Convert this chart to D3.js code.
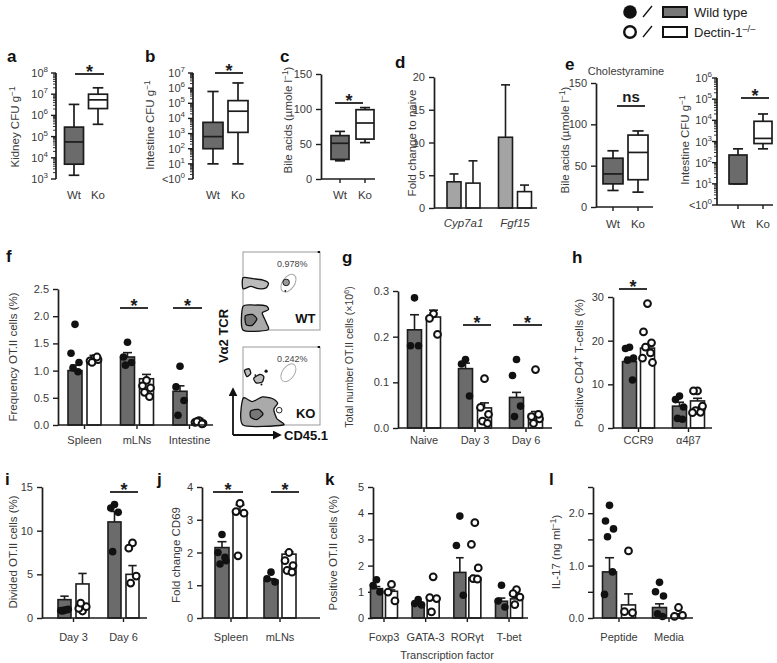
<!DOCTYPE html>
<html><head><meta charset="utf-8">
<script src="https://cdn.jsdelivr.net/npm/d3@7"></script>
<style>body{margin:0;background:#fff}svg{font-family:"Liberation Sans",Arial,sans-serif}</style>
</head><body>
<svg id="c" width="777" height="663"></svg>
<script>
// ================= DATA =================
const groups = ["Wt", "Ko"];
// box plots: [min, q1, median, q3, max]
const aWt = [1500, 5000, 56000, 280000, 3300000];
const aKo = [380000, 2100000, 5400000, 10000000, 20000000];
const bWt = [10, 100, 630, 5500, 600000];
const bKo = [10, 1200, 30000, 150000, 2200000];
const cWt = [26, 28, 51, 62, 68];
const cKo = [52, 57, 80, 99, 102];
const eBileWt = [20, 28, 40, 59, 68];
const eBileKo = [18, 33, 66, 87, 92];
const eCfuWt = [10, 10, 10, 230, 450];
const eCfuKo = [450, 800, 1400, 9000, 20000];
// d: fold change
const dGenes = ["Cyp7a1", "Fgf15"];
const dWtMean = [4.0, 10.8], dWtTop = [5.2, 18.8];
const dKoMean = [3.8, 2.5], dKoTop = [7.2, 3.5];
// f
const fCats = ["Spleen", "mLNs", "Intestine"];
const fWtMean = [1.0, 1.25, 0.62], fWtTop = [1.1, 1.33, 0.72];
const fKoMean = [1.19, 0.85, 0.06], fKoTop = [1.28, 0.93, 0.12];
const fWtPts = [[1.85, 1.32, 1.15, 1.05, 0.98], [1.52, 1.25, 1.15, 1.1], [1.08, 0.7, 0.45, 0.18]];
const fKoPts = [[1.22, 1.18, 1.2, 1.15, 1.25], [0.82, 0.72, 0.68, 0.6, 0.52], [0.08, 0.05, 0.03, 0.06, 0.02]];
// g
const gCats = ["Naive", "Day 3", "Day 6"];
const gWtMean = [0.215, 0.13, 0.067], gWtTop = [0.248, 0.142, 0.078];
const gKoMean = [0.243, 0.044, 0.03], gKoTop = [0.258, 0.055, 0.036];
const gWtPts = [[0.285, 0.18, 0.18], [0.15, 0.14, 0.07], [0.15, 0.115, 0.048, 0.025]];
const gKoPts = [[0.25, 0.24, 0.205], [0.108, 0.045, 0.03, 0.015, 0.01], [0.128, 0.025, 0.02, 0.01, 0.03]];
// h
const hCats = ["CCR9", "α4β7"];
const hWtMean = [15.2, 5.0], hWtTop = [16.2, 5.9];
const hKoMean = [18.3, 6.2], hKoTop = [18.9, 6.8];
const hWtPts = [[18.5, 18.2, 16.0, 15.5, 11.0], [7.3, 6.5, 4.8, 2.2, 2.0]];
const hKoPts = [[28.5, 22.0, 19.5, 18.5, 17.2, 16.0, 15.0], [8.5, 8.5, 4.5, 4.0, 3.6, 3.5, 5.0]];
// i
const iCats = ["Day 3", "Day 6"];
const iWtMean = [2.1, 11.0], iWtTop = [2.5, 12.2];
const iKoMean = [3.9, 5.0], iKoTop = [5.1, 6.0];
const iWtPts = [[0.9, 0.85, 1.0, 0.8, 0.95], [13.0, 12.6, 12.1, 7.6]];
const iKoPts = [[0.8, 1.1, 1.3, 1.7], [8.6, 8.0, 4.8, 4.0]];
// j
const jCats = ["Spleen", "mLNs"];
const jWtMean = [2.15, 1.15], jWtTop = [2.33, 1.2];
const jKoMean = [3.2, 1.95], jKoTop = [3.45, 2.02];
const jWtPts = [[2.55, 2.0, 1.75, 1.65, 1.85], [1.4, 1.2, 1.1]];
const jKoPts = [[3.5, 3.25, 3.2, 1.9], [2.0, 1.75, 1.6, 1.45, 1.4]];
// k
const kCats = ["Foxp3", "GATA-3", "RORγt", "T-bet"];
const kWtMean = [1.12, 0.55, 1.74, 0.64], kWtTop = [1.2, 0.6, 2.3, 0.76];
const kKoMean = [1.02, 0.74, 1.54, 0.73], kKoTop = [1.07, 0.8, 1.62, 0.78];
const kWtPts = [[1.46, 1.24, 0.99], [0.7, 0.55, 0.5], [3.89, 2.77, 0.87], [1.25, 0.65, 0.42]];
const kKoPts = [[1.28, 0.99, 0.65], [1.57, 0.78, 0.74, 0.23], [3.64, 2.81, 1.91, 1.5, 1.48], [1.08, 0.93, 0.8, 0.51]];
// l
const lCats = ["Peptide", "Media"];
const lWtMean = [0.88, 0.2], lWtTop = [1.15, 0.27];
const lKoMean = [0.25, 0.05], lKoTop = [0.46, 0.08];
const lWtPts = [[2.15, 1.85, 1.7, 1.55, 0.88, 0.45], [0.68, 0.5, 0.42, 0.08, 0.03]];
const lKoPts = [[1.28, 0.12, 0.1], [0.2, 0.03, 0.05]];
// flow gate percentages
const flowPct = ["0.978%", "0.242%"];

// ================= DRAWING =================
const svg = d3.select("#c");
const DARK = "#6b6b6b", LIGHT = "#a4a4a4", INK = "#1c1c1c", TXT = "#3a3a3a";

function letter(t, x, y) {
  svg.append("text").attr("x", x).attr("y", y).attr("font-size", 17).attr("font-weight", "bold").attr("fill", "#111").text(t);
}
function addParts(t, parts, fs) {
  let raised = false;
  parts.forEach(p => {
    if (typeof p === "string") {
      const s = t.append("tspan").text(p);
      if (raised) { s.attr("dy", fs * 0.38); raised = false; }
    } else {
      t.append("tspan").attr("dy", -fs * 0.38).attr("font-size", fs * 0.72).text(p.sup);
      raised = true;
    }
  });
}
function yTitle(parts, x, yc, fs = 11.5) {
  const t = svg.append("text").attr("transform", `translate(${x},${yc}) rotate(-90)`)
    .attr("text-anchor", "middle").attr("font-size", fs).attr("fill", TXT);
  addParts(t, parts, fs);
}
function styleAxis(g) {
  g.attr("font-family", null).attr("font-size", 11);
  g.select(".domain").attr("stroke", INK).attr("stroke-width", 1.7);
  g.selectAll(".tick line").attr("stroke", INK).attr("stroke-width", 1.4);
  g.selectAll(".tick text").attr("fill", TXT);
}
function linY(p) {
  const y = d3.scaleLinear().domain(p.dom).range([p.yBot, p.yTop]);
  const ax = d3.axisLeft(y).tickValues(p.ticks).tickSize(5).tickSizeOuter(0).tickPadding(4)
    .tickFormat(p.fmt || (d => d));
  svg.append("g").attr("transform", `translate(${p.x0},0)`).call(ax).call(styleAxis);
  return y;
}
function logY(p) {
  const y = d3.scaleLog().domain(p.dom).range([p.yBot, p.yTop]);
  const g = svg.append("g");
  g.append("line").attr("x1", p.x0).attr("x2", p.x0).attr("y1", p.yBot).attr("y2", p.yTop)
    .attr("stroke", INK).attr("stroke-width", 1.7);
  const lo = Math.round(Math.log10(p.dom[0])), hi = Math.round(Math.log10(p.dom[1]));
  const gap = p.gap || 8;
  for (let e = lo; e <= hi; e++) {
    const v = Math.pow(10, e);
    g.append("line").attr("x1", p.x0 - 5).attr("x2", p.x0).attr("y1", y(v)).attr("y2", y(v))
      .attr("stroke", INK).attr("stroke-width", 1.4);
    if (e < hi) for (let m = 2; m <= 9; m++) {
      g.append("line").attr("x1", p.x0 - 3).attr("x2", p.x0).attr("y1", y(m * v)).attr("y2", y(m * v))
        .attr("stroke", INK).attr("stroke-width", 0.9);
    }
    const t = g.append("text").attr("x", p.x0 - gap).attr("y", y(v) + 4).attr("text-anchor", "end")
      .attr("font-size", 11).attr("fill", TXT);
    const pre = (p.lt && e === lo) ? "<10" : "10";
    t.append("tspan").text(pre);
    t.append("tspan").attr("dy", -5).attr("font-size", 8).text(e);
  }
  return y;
}
function xLine(p, y) {
  svg.append("line").attr("x1", p.x0).attr("x2", p.x1).attr("y1", y(p.base)).attr("y2", y(p.base))
    .attr("stroke", INK).attr("stroke-width", 1.7);
}
function xLabels(cats, x, lb, ticks, y0, fs = 11.5, style) {
  cats.forEach(c => {
    const t = svg.append("text").attr("x", x(c)).attr("y", lb).attr("text-anchor", "middle")
      .attr("font-size", fs).attr("fill", TXT).text(c);
    if (style) t.attr("font-style", style);
    if (ticks) svg.append("line").attr("x1", x(c)).attr("x2", x(c)).attr("y1", y0).attr("y2", y0 + 4)
      .attr("stroke", INK).attr("stroke-width", 1.4);
  });
}
function sig(x1, x2, yb, txt = "*") {
  svg.append("line").attr("x1", x1).attr("x2", x2).attr("y1", yb).attr("y2", yb)
    .attr("stroke", INK).attr("stroke-width", 1.8);
  if (txt === "*")
    svg.append("text").attr("x", (x1 + x2) / 2).attr("y", yb + 4).attr("text-anchor", "middle")
      .attr("font-size", 18).attr("font-weight", "bold").attr("fill", INK).text("*");
  else
    svg.append("text").attr("x", (x1 + x2) / 2).attr("y", yb - 4).attr("text-anchor", "middle")
      .attr("font-size", 15).attr("font-weight", "bold").attr("fill", INK).text(txt);
}
function boxes(y, x, data, w) {
  data.forEach((d, i) => {
    const cx = x(groups[i]), fill = i === 0 ? DARK : "#fff";
    const g = svg.append("g").attr("stroke", INK).attr("stroke-width", 1.7);
    g.append("line").attr("x1", cx).attr("x2", cx).attr("y1", y(d[0])).attr("y2", y(d[1]));
    g.append("line").attr("x1", cx).attr("x2", cx).attr("y1", y(d[3])).attr("y2", y(d[4]));
    g.append("line").attr("x1", cx - w * 0.28).attr("x2", cx + w * 0.28).attr("y1", y(d[0])).attr("y2", y(d[0]));
    g.append("line").attr("x1", cx - w * 0.28).attr("x2", cx + w * 0.28).attr("y1", y(d[4])).attr("y2", y(d[4]));
    g.append("rect").attr("x", cx - w / 2).attr("width", w).attr("y", y(d[3]))
      .attr("height", Math.max(0.5, y(d[1]) - y(d[3]))).attr("fill", fill);
    g.append("line").attr("x1", cx - w / 2).attr("x2", cx + w / 2).attr("y1", y(d[2])).attr("y2", y(d[2]));
  });
}
const jit = [0, -4, 4, -2, 3, -5, 5, 1];
function bars(y, x, cats, w, off, sets, dots = true) {
  sets.forEach((s, gi) => {
    const sgn = gi === 0 ? -1 : 1;
    cats.forEach((c, ci) => {
      const cx = x(c) + sgn * off;
      svg.append("rect").attr("x", cx - w / 2).attr("width", w).attr("y", y(s.mean[ci]))
        .attr("height", y(0) - y(s.mean[ci])).attr("fill", s.fill).attr("stroke", INK).attr("stroke-width", 1.6);
      svg.append("line").attr("x1", cx).attr("x2", cx).attr("y1", y(s.mean[ci])).attr("y2", y(s.top[ci]))
        .attr("stroke", INK).attr("stroke-width", 1.6);
      svg.append("line").attr("x1", cx - w * 0.32).attr("x2", cx + w * 0.32).attr("y1", y(s.top[ci])).attr("y2", y(s.top[ci]))
        .attr("stroke", INK).attr("stroke-width", 1.6);
    });
  });
  if (!dots) return;
  sets.forEach((s, gi) => {
    const sgn = gi === 0 ? -1 : 1;
    cats.forEach((c, ci) => {
      const cx = x(c) + sgn * off;
      s.pts[ci].forEach((v, k) => {
        svg.append("circle").attr("cx", cx + jit[k % jit.length] * w / 14).attr("cy", y(v))
          .attr("r", gi === 0 ? 3.8 : 3.4)
          .attr("fill", gi === 0 ? "#111" : "#fff").attr("stroke", gi === 0 ? "none" : "#111")
          .attr("stroke-width", 2);
      });
    });
  });
}

// ---------- Legend ----------
(function () {
  const rows = [{ y: 12, filled: true, txt: ["Wild type"] }, { y: 32, filled: false, txt: ["Dectin-1", { sup: "–/–" }] }];
  rows.forEach(r => {
    svg.append("circle").attr("cx", 630).attr("cy", r.y).attr("r", r.filled ? 6.8 : 5.8)
      .attr("fill", r.filled ? "#111" : "#fff").attr("stroke", "#111").attr("stroke-width", r.filled ? 0 : 2.4);
    svg.append("line").attr("x1", 643).attr("x2", 652).attr("y1", r.y + 5).attr("y2", r.y - 6)
      .attr("stroke", "#111").attr("stroke-width", 1.3);
    svg.append("rect").attr("x", 663).attr("y", r.y - 5).attr("width", 24).attr("height", 10)
      .attr("fill", r.filled ? "#777" : "#fff").attr("stroke", "#111").attr("stroke-width", 2);
    const t = svg.append("text").attr("x", 694).attr("y", r.y + 5).attr("font-size", 13).attr("fill", "#222");
    addParts(t, r.txt, 13);
  });
})();

// ---------- a ----------
letter("a", 7, 62);
{
  const p = { x0: 56, yTop: 73, yBot: 179, dom: [1e3, 1e8] };
  const y = logY(p);
  const x = d3.scalePoint().domain(groups).range([74, 98]);
  boxes(y, x, [aWt, aKo], 19);
  xLabels(groups, x, 199, false);
  yTitle(["Kidney CFU g", { sup: "−1" }], 19, 127);
  sig(75, 104, 74);
}
// ---------- b ----------
letter("b", 145, 62);
{
  const p = { x0: 193, yTop: 73, yBot: 179, dom: [1, 1e7], lt: true };
  const y = logY(p);
  const x = d3.scalePoint().domain(groups).range([213, 238]);
  boxes(y, x, [bWt, bKo], 20);
  xLabels(groups, x, 199, false);
  yTitle(["Intestine CFU g", { sup: "−1" }], 154, 125);
  sig(215, 243, 73);
}
// ---------- c ----------
letter("c", 280, 62);
{
  const p = { x0: 321, x1: 375, yTop: 74, yBot: 179, dom: [0, 150], ticks: [0, 50, 100, 150], base: 0 };
  const y = linY(p);
  const x = d3.scalePoint().domain(groups).range([340, 365]);
  boxes(y, x, [cWt, cKo], 18);
  xLine(p, y);
  xLabels(groups, x, 199, true, y(0));
  yTitle(["Bile acids (µmole l", { sup: "−1" }, ")"], 292, 120);
  sig(335, 363, 103);
}
// ---------- d ----------
letter("d", 395, 68);
{
  const p = { x0: 434, x1: 537, yTop: 77, yBot: 208, dom: [0, 20], ticks: [0, 5, 10, 15, 20], base: 0 };
  const y = linY(p);
  const x = d3.scalePoint().domain(dGenes).range([463.5, 515]);
  bars(y, x, dGenes, 14, 9.5, [{ mean: dWtMean, top: dWtTop, fill: LIGHT }, { mean: dKoMean, top: dKoTop, fill: "#fff" }], false);
  xLine(p, y);
  xLabels(dGenes, x, 227, false, 0, 11.5, "italic");
  yTitle(["Fold change to naive"], 416, 143);
}
// ---------- e ----------
letter("e", 565, 70);
svg.append("text").attr("x", 626).attr("y", 75).attr("text-anchor", "middle").attr("font-size", 11).attr("fill", TXT).text("Cholestyramine");
{
  const p = { x0: 596, x1: 653, yTop: 83, yBot: 207, dom: [0, 150], ticks: [0, 50, 100, 150], base: 0 };
  const y = linY(p);
  const x = d3.scalePoint().domain(groups).range([613, 638]);
  boxes(y, x, [eBileWt, eBileKo], 20);
  xLine(p, y);
  xLabels(groups, x, 228, true, y(0));
  yTitle(["Bile acids (µmole l", { sup: "−1" }, ")"], 569, 140);
  sig(617, 645, 106, "ns");
}
{
  const p = { x0: 717, x1: 773, yTop: 78, yBot: 205, dom: [1, 1e6], lt: true, base: 1, gap: 5 };
  const y = logY(p);
  const x = d3.scalePoint().domain(groups).range([738, 763]);
  boxes(y, x, [eCfuWt, eCfuKo], 18);
  xLine(p, y);
  xLabels(groups, x, 228, true, y(1));
  yTitle(["Intestine CFU g", { sup: "−1" }], 689, 140);
  sig(741, 769, 98);
}

// ---------- f ----------
letter("f", 6, 262);
{
  const p = { x0: 58, x1: 213, yTop: 289, yBot: 425, dom: [0, 2.5], ticks: [0, 0.5, 1, 1.5, 2, 2.5], fmt: d3.format(".1f"), base: 0 };
  const y = linY(p);
  const x = d3.scalePoint().domain(fCats).range([84.5, 189.5]);
  bars(y, x, fCats, 14, 9.5, [{ mean: fWtMean, top: fWtTop, pts: fWtPts, fill: DARK }, { mean: fKoMean, top: fKoTop, pts: fKoPts, fill: "#fff" }]);
  xLine(p, y);
  xLabels(fCats, x, 444, true, y(0), 11);
  yTitle(["Frequency OT.II cells (%)"], 17, 357);
  sig(120, 148, 308); sig(173, 202, 308);
}
// ---------- flow plots ----------
{
  const boxesF = [{ y0: 252, pct: flowPct[0], lab: "WT" }, { y0: 347, pct: flowPct[1], lab: "KO" }];
  const wtBlobs = [
    { pts: [[0, 0.33], [0.12, 0.34], [0.26, 0.36], [0.33, 0.4], [0.3, 0.46], [0.2, 0.47], [0.1, 0.44], [0, 0.47]], fill: "#bbb" },
    { pts: [[0, 0.7], [0.15, 0.68], [0.3, 0.69], [0.33, 0.74], [0.25, 0.78], [0.3, 0.9], [0.32, 1], [0, 1]], fill: "#aaa" },
    { pts: [[0.03, 0.82], [0.12, 0.8], [0.18, 0.86], [0.12, 0.94], [0.04, 0.93]], fill: "#777" }
  ];
  const koBlobs = [
    { pts: [[0.02, 0.3], [0.08, 0.28], [0.1, 0.34], [0.05, 0.38]], fill: "#bbb" },
    { pts: [[0.14, 0.4], [0.22, 0.35], [0.27, 0.38], [0.25, 0.45], [0.17, 0.46]], fill: "#bbb" },
    { pts: [[0, 0.66], [0.12, 0.7], [0.25, 0.64], [0.38, 0.66], [0.45, 0.72], [0.4, 0.8], [0.44, 0.92], [0.52, 1], [0, 1]], fill: "#aaa" },
    { pts: [[0.1, 0.82], [0.2, 0.8], [0.26, 0.86], [0.18, 0.93], [0.1, 0.9]], fill: "#777" }
  ];
  boxesF.forEach((b, bi) => {
    const u = d3.scaleLinear().domain([0, 1]).range([243, 320]);
    const v = d3.scaleLinear().domain([0, 1]).range([b.y0, b.y0 + 78]);
    svg.append("rect").attr("x", u(0)).attr("y", v(0)).attr("width", u(1) - u(0)).attr("height", v(1) - v(0))
      .attr("fill", "#fff").attr("stroke", "#999").attr("stroke-width", 1);
    svg.append("line").attr("x1", u(0.97)).attr("x2", u(1)).attr("y1", v(0)).attr("y2", v(0)).attr("stroke", "#111").attr("stroke-width", 2);
    const line = d3.line().x(d => u(d[0])).y(d => v(d[1])).curve(d3.curveCardinalClosed.tension(0.3));
    (bi === 0 ? wtBlobs : koBlobs).forEach(bl => {
      svg.append("path").attr("d", line(bl.pts)).attr("fill", bl.fill).attr("stroke", "#111").attr("stroke-width", 1.3);
    });
    svg.append("ellipse").attr("transform", `translate(${u(0.59)},${v(bi === 0 ? 0.4 : 0.33)}) rotate(35)`)
      .attr("rx", 6).attr("ry", 10).attr("fill", "none").attr("stroke", "#aaa").attr("stroke-width", 1);
    if (bi === 0) {
      svg.append("circle").attr("cx", u(0.56)).attr("cy", v(0.39)).attr("r", 3.3).attr("fill", "#999").attr("stroke", "#222").attr("stroke-width", 1);
      svg.append("circle").attr("cx", u(0.55)).attr("cy", v(0.5)).attr("r", 0.9).attr("fill", "#111");
    } else {
      [[0.3, 0.31, 1.6], [0.24, 0.48, 1], [0.16, 0.36, 0.9]].forEach(d =>
        svg.append("circle").attr("cx", u(d[0])).attr("cy", v(d[1])).attr("r", d[2]).attr("fill", "#111"));
      svg.append("circle").attr("cx", u(0.47)).attr("cy", v(0.81)).attr("r", 2.8).attr("fill", "#fff").attr("stroke", "#222").attr("stroke-width", 1);
    }
    svg.append("text").attr("x", u(0.64)).attr("y", v(0.19)).attr("text-anchor", "middle").attr("font-size", 9).attr("fill", "#444").text(b.pct);
    svg.append("text").attr("x", u(0.94)).attr("y", v(0.91)).attr("text-anchor", "end").attr("font-size", 13).attr("font-weight", "bold").attr("fill", "#111").text(b.lab);
  });
  svg.append("defs").append("marker").attr("id", "arr").attr("viewBox", "0 0 10 10").attr("refX", 8).attr("refY", 5)
    .attr("markerWidth", 5).attr("markerHeight", 5).attr("orient", "auto")
    .append("path").attr("d", "M0,0L10,5L0,10z").attr("fill", "#111");
  svg.append("path").attr("d", d3.line()([[233, 435], [233, 389]])).attr("stroke", "#111").attr("stroke-width", 1.8).attr("marker-end", "url(#arr)");
  svg.append("path").attr("d", d3.line()([[233, 435], [280, 435]])).attr("stroke", "#111").attr("stroke-width", 1.8).attr("marker-end", "url(#arr)");
  svg.append("text").attr("transform", "translate(228,336) rotate(-90)").attr("text-anchor", "middle")
    .attr("font-size", 13).attr("font-weight", "bold").attr("fill", "#111").text("Vα2 TCR");
  svg.append("text").attr("x", 284).attr("y", 440).attr("font-size", 13).attr("font-weight", "bold").attr("fill", "#111").text("CD45.1");
}
// ---------- g ----------
letter("g", 342, 263);
{
  const p = { x0: 398, x1: 552, yTop: 291, yBot: 428, dom: [0, 0.3], ticks: [0, 0.1, 0.2, 0.3], fmt: d3.format(".1f"), base: 0 };
  const y = linY(p);
  const x = d3.scalePoint().domain(gCats).range([424, 526]);
  bars(y, x, gCats, 14, 9.5, [{ mean: gWtMean, top: gWtTop, pts: gWtPts, fill: DARK }, { mean: gKoMean, top: gKoTop, pts: gKoPts, fill: "#fff" }]);
  xLine(p, y);
  xLabels(gCats, x, 444, true, y(0), 11);
  yTitle(["Total number OT.II cells (×10", { sup: "6" }, ")"], 353, 357, 10.5);
  sig(463, 491, 325); sig(513, 542, 325);
}
// ---------- h ----------
letter("h", 572, 263);
{
  const p = { x0: 613, x1: 712, yTop: 297, yBot: 428, dom: [0, 30], ticks: [0, 10, 20, 30], base: 0 };
  const y = linY(p);
  const x = d3.scalePoint().domain(hCats).range([638.5, 688.5]);
  bars(y, x, hCats, 14, 9, [{ mean: hWtMean, top: hWtTop, pts: hWtPts, fill: DARK }, { mean: hKoMean, top: hKoTop, pts: hKoPts, fill: "#fff" }]);
  xLine(p, y);
  xLabels(hCats, x, 444, true, y(0), 11);
  yTitle(["Positive CD4", { sup: "+" }, " T-cells (%)"], 583, 363);
  sig(619, 647, 289);
}
// ---------- i ----------
letter("i", 5, 485);
{
  const p = { x0: 42, x1: 147, yTop: 487, yBot: 618, dom: [0, 15], ticks: [0, 5, 10, 15], base: 0 };
  const y = linY(p);
  const x = d3.scalePoint().domain(iCats).range([73.5, 123.5]);
  bars(y, x, iCats, 13, 9, [{ mean: iWtMean, top: iWtTop, pts: iWtPts, fill: DARK }, { mean: iKoMean, top: iKoTop, pts: iKoPts, fill: "#fff" }]);
  xLine(p, y);
  xLabels(iCats, x, 641, true, y(0), 11);
  yTitle(["Divided OT.II cells (%)"], 17, 552);
  sig(110, 138, 492);
}
// ---------- j ----------
letter("j", 157, 485);
{
  const p = { x0: 202, x1: 320, yTop: 487, yBot: 618, dom: [0, 4], ticks: [0, 1, 2, 3, 4], base: 0 };
  const y = linY(p);
  const x = d3.scalePoint().domain(jCats).range([231, 280]);
  bars(y, x, jCats, 14, 9, [{ mean: jWtMean, top: jWtTop, pts: jWtPts, fill: DARK }, { mean: jKoMean, top: jKoTop, pts: jKoPts, fill: "#fff" }]);
  xLine(p, y);
  xLabels(jCats, x, 641, true, y(0), 11);
  yTitle(["Fold change CD69"], 180, 555);
  sig(213, 243, 492); sig(271, 299, 492);
}
// ---------- k ----------
letter("k", 325, 485);
{
  const p = { x0: 373, x1: 528, yTop: 487, yBot: 618, dom: [0, 5], ticks: [0, 1, 2, 3, 4, 5], base: 0 };
  const y = linY(p);
  const x = d3.scalePoint().domain(kCats).range([384, 509]);
  bars(y, x, kCats, 12, 7.5, [{ mean: kWtMean, top: kWtTop, pts: kWtPts, fill: DARK }, { mean: kKoMean, top: kKoTop, pts: kKoPts, fill: "#fff" }]);
  xLine(p, y);
  xLabels(kCats, x, 641, true, y(0), 11);
  svg.append("text").attr("x", 447).attr("y", 659).attr("text-anchor", "middle").attr("font-size", 11).attr("fill", TXT).text("Transcription factor");
  yTitle(["Positive OT.II cells (%)"], 337, 553);
}
// ---------- l ----------
letter("l", 549, 485);
{
  const p = { x0: 593, x1: 693, yTop: 487, yBot: 618, dom: [0, 2.5], ticks: [0, 0.5, 1, 1.5, 2, 2.5],
    fmt: d => (d === 0 || d === 1 || d === 2) ? d3.format(".1f")(d) : "", base: 0 };
  const y = linY(p);
  const x = d3.scalePoint().domain(lCats).range([619, 669]);
  bars(y, x, lCats, 14, 9.5, [{ mean: lWtMean, top: lWtTop, pts: lWtPts, fill: DARK }, { mean: lKoMean, top: lKoTop, pts: lKoPts, fill: "#fff" }]);
  xLine(p, y);
  xLabels(lCats, x, 641, true, y(0), 11);
  yTitle(["IL-17 (ng ml", { sup: "−1" }, ")"], 560, 552);
}
</script>
</body></html>
